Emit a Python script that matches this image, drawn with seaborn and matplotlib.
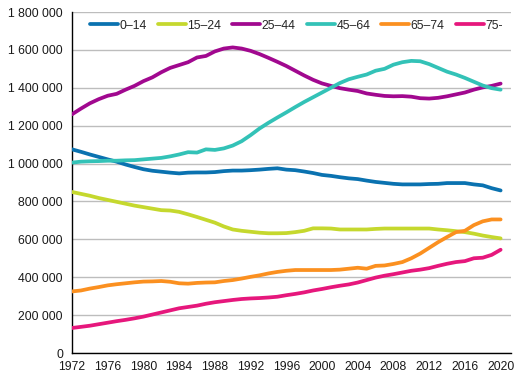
import numpy as np
import pandas as pd
import matplotlib
matplotlib.use("Agg")
import matplotlib.pyplot as plt
from matplotlib.ticker import FuncFormatter, MultipleLocator
from matplotlib.lines import Line2D
import seaborn as sns

years = list(range(1972, 2021))

age_0_14 = [1075000, 1062000, 1048000, 1035000, 1022000, 1010000, 995000, 982000, 970000, 962000,
            957000, 952000, 948000, 952000, 953000, 953000, 955000, 960000, 963000, 963000,
            965000, 968000, 972000, 975000, 968000, 965000, 958000, 950000, 940000, 935000,
            928000, 922000, 918000, 910000, 903000, 898000, 893000, 890000, 890000, 890000,
            892000, 893000, 897000, 897000, 897000, 890000, 885000, 870000, 858000]
age_15_24 = [850000, 840000, 830000, 818000, 808000, 798000, 788000, 778000, 770000, 762000,
             754000, 752000, 745000, 732000, 718000, 703000, 688000, 668000, 652000, 645000,
             640000, 635000, 632000, 632000, 633000, 638000, 645000, 658000, 658000, 657000,
             652000, 652000, 652000, 652000, 655000, 657000, 657000, 657000, 657000, 657000,
             657000, 652000, 648000, 643000, 638000, 630000, 620000, 612000, 605000]
age_25_44 = [1260000, 1290000, 1318000, 1340000, 1358000, 1368000, 1390000, 1410000, 1435000, 1455000,
             1482000, 1505000, 1520000, 1535000, 1560000, 1568000, 1592000, 1607000, 1613000, 1607000,
             1595000, 1578000, 1558000, 1537000, 1515000, 1490000, 1465000, 1442000, 1423000, 1410000,
             1398000, 1390000, 1383000, 1370000, 1363000, 1357000, 1355000, 1356000, 1353000, 1345000,
             1343000, 1347000, 1355000, 1365000, 1375000, 1390000, 1402000, 1410000, 1422000]
age_45_64 = [1005000, 1010000, 1012000, 1013000, 1015000, 1015000, 1017000, 1018000, 1022000, 1026000,
             1030000, 1038000, 1048000, 1060000, 1058000, 1075000, 1072000, 1080000, 1095000, 1118000,
             1150000, 1185000, 1215000, 1243000, 1270000, 1298000, 1325000, 1350000, 1375000, 1400000,
             1425000, 1445000, 1458000, 1470000, 1490000, 1500000, 1522000, 1535000, 1542000, 1540000,
             1525000, 1505000, 1485000, 1470000, 1452000, 1432000, 1412000, 1398000, 1390000]
age_65_74 = [325000, 330000, 340000, 348000, 357000, 363000, 368000, 373000, 377000, 378000,
             380000, 376000, 368000, 366000, 370000, 372000, 373000, 380000, 385000, 393000,
             402000, 410000, 420000, 428000, 434000, 438000, 438000, 438000, 438000, 438000,
             440000, 445000, 450000, 445000, 460000, 462000, 470000, 480000, 500000, 525000,
             555000, 585000, 612000, 638000, 645000, 675000, 695000, 705000, 705000]
age_75 = [132000, 138000, 144000, 152000, 160000, 168000, 175000, 183000, 192000, 203000,
          214000, 225000, 236000, 243000, 250000, 260000, 268000, 274000, 280000, 285000,
          288000, 290000, 293000, 297000, 305000, 312000, 320000, 330000, 338000, 347000,
          355000, 362000, 372000, 385000, 398000, 408000, 416000, 425000, 434000, 440000,
          448000, 460000, 471000, 480000, 485000, 500000, 503000, 518000, 545000]

groups = ["0–14", "15–24", "25–44", "45–64", "65–74", "75-"]
series = [age_0_14, age_15_24, age_25_44, age_45_64, age_65_74, age_75]
colors = ["#0a72b0", "#c5d82e", "#a1088f", "#33c2b7", "#fb9020", "#e6177c"]

df = pd.concat([pd.DataFrame({"year": years, "value": vals, "group": g})
                for g, vals in zip(groups, series)], ignore_index=True)

sns.set_style("white")
plt.rcParams["font.family"] = ["Liberation Sans", "DejaVu Sans"]
plt.rcParams["font.size"] = 8.8

fig = plt.figure(figsize=(5.28, 3.87), dpi=100)
ax = fig.add_axes([72 / 528, 34 / 387, (510.7 - 72) / 528, (353 - 12) / 387])

sns.lineplot(data=df, x="year", y="value", hue="group", hue_order=groups,
             palette=dict(zip(groups, colors)), linewidth=2.7, ax=ax,
             legend=False, zorder=3)
for ln in ax.lines:
    ln.set_solid_capstyle("round")
    ln.set_solid_joinstyle("round")

ax.set_xlim(1972, 2021.13)
ax.set_ylim(0, 1800000)
ax.yaxis.set_major_locator(MultipleLocator(200000))
ax.xaxis.set_major_locator(MultipleLocator(4))
ax.yaxis.set_major_formatter(FuncFormatter(lambda v, p: f"{int(v):,}".replace(",", " ")))
ax.xaxis.set_major_formatter(FuncFormatter(lambda v, p: f"{int(v)}"))
ax.set_xlabel("")
ax.set_ylabel("")

ax.grid(axis="y", color="#bdbdbd", linewidth=1.0, zorder=0)
ax.grid(axis="x", visible=False)
for s in ["top", "right"]:
    ax.spines[s].set_visible(False)
for s in ["left", "bottom"]:
    ax.spines[s].set_color("black")
    ax.spines[s].set_linewidth(1.0)
ax.tick_params(axis="both", which="major", direction="out", length=3, width=1,
               color="black", labelsize=8.8, labelcolor="#1a1a1a")
ax.tick_params(axis="y", pad=3.5)
ax.tick_params(axis="x", pad=3)

handles = [Line2D([0], [0], color=c, linewidth=2.7, solid_capstyle="round") for c in colors]
leg = ax.legend(handles, groups, loc="center left", bbox_to_anchor=(0.041, 0.96),
                ncol=6, frameon=False, fontsize=8.8, handlelength=2.3,
                handletextpad=0.12, columnspacing=0.9, borderpad=0, borderaxespad=0)

fig.savefig("out.png", dpi=100)
